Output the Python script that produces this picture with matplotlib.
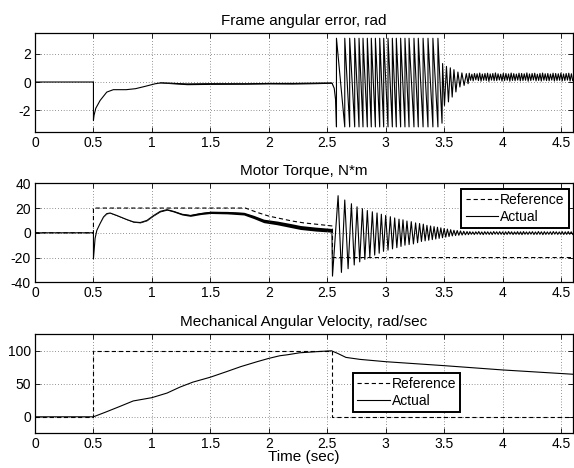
import numpy as np
import matplotlib
matplotlib.use("Agg")
import matplotlib.pyplot as plt

plt.rcParams['font.family'] = ['Liberation Sans', 'DejaVu Sans']
plt.rcParams['axes.unicode_minus'] = False
plt.rcParams['font.size'] = 10

# ---------------- Frame angular error, rad ----------------
err_t = [0.0, 0.5, 0.5, 0.505, 0.52, 0.557, 0.614, 0.67, 0.78, 0.86, 0.94, 1.03,
         1.08, 1.2, 1.3, 1.5, 1.8, 2.0, 2.2, 2.4, 2.54, 2.56, 2.572]
err_v = [0.0, 0.0, -2.7, -2.35, -1.85, -1.3, -0.71, -0.54, -0.54, -0.47, -0.31, -0.12,
         -0.05, -0.1, -0.14, -0.12, -0.12, -0.1, -0.1, -0.08, -0.06, -0.45, -1.3]
err_noise = [0, 0, 0, 0, 0, 0, 0, 0, 0, 0, 0, 0,
             0.02, 0.04, 0.05, 0.05, 0.04, 0.04, 0.05, 0.04, 0.03, 0, 0]
# instants where the angle wraps from -pi back to +pi
slip_t = [2.579, 2.65, 2.692, 2.735, 2.772, 2.806, 2.843, 2.877, 2.912, 2.949, 2.983,
          3.02, 3.057, 3.091, 3.128, 3.165, 3.2, 3.242, 3.279, 3.32, 3.362, 3.404, 3.447]
slip_top = 3.08
slip_bottom = -3.16
settle_t = [3.482, 3.487, 3.503, 3.52, 3.537, 3.553, 3.569, 3.584, 3.601, 3.618,
            3.635, 3.652, 3.671, 3.69, 3.705]
settle_v = [-2.9, 1.3, -1.65, 1.1, -1.4, 1.0, -1.06, 0.87, -0.7, 0.7,
            -0.35, 0.64, -0.24, 0.59, -0.12]
err_ripple_span = (3.715, 4.6)
err_ripple_hi = [0.62, 0.55, 0.6, 0.58, 0.63, 0.56, 0.6, 0.62, 0.57, 0.6, 0.64, 0.58,
                 0.55, 0.61, 0.6, 0.57, 0.63, 0.59, 0.56, 0.62, 0.6, 0.58, 0.64, 0.57,
                 0.6, 0.62, 0.55, 0.6, 0.63, 0.58, 0.6, 0.56, 0.62, 0.6, 0.58, 0.63,
                 0.57, 0.6, 0.62, 0.58]
err_ripple_lo = [0.12, 0.08, 0.15, 0.1, 0.06, 0.12, 0.1, 0.05, 0.13, 0.09, 0.1, 0.14,
                 0.07, 0.1, 0.12, 0.06, 0.11, 0.09, 0.13, 0.08, 0.1, 0.12, 0.06, 0.1,
                 0.14, 0.08, 0.11, 0.07, 0.12, 0.1, 0.09, 0.13, 0.07, 0.1, 0.12, 0.08,
                 0.1, 0.13, 0.07, 0.1]

# ---------------- Motor torque, N*m ----------------
trq_ref_t = [0.0, 0.5, 0.5, 1.8, 1.9, 2.0, 2.1, 2.2, 2.3, 2.4, 2.545, 2.545, 4.6]
trq_ref_v = [0.0, 0.0, 20.0, 20.0, 16.5, 13.5, 11.5, 9.5, 8.0, 7.0, 5.5, -20.0, -20.0]

trq_t = [0.0, 0.5, 0.5, 0.514, 0.529, 0.557, 0.586, 0.614, 0.643, 0.7, 0.786, 0.843,
         0.9, 0.957, 1.014, 1.071, 1.129, 1.186, 1.257, 1.329, 1.414, 1.5, 1.643,
         1.786, 1.871, 1.957, 2.071, 2.186, 2.27, 2.4, 2.54]
trq_v = [0.0, 0.0, -21.0, -4.5, 2.0, 7.5, 12.8, 15.5, 16.0, 14.0, 10.7, 8.8,
         8.3, 10.0, 13.9, 17.3, 18.7, 17.3, 15.0, 14.0, 15.5, 16.5, 16.3,
         15.5, 12.8, 9.6, 8.0, 5.9, 4.3, 3.0, 2.0]
trq_noise = [0, 0, 0, 0, 0, 0, 0.1, 0.2, 0.2, 0.2, 0.2, 0.3,
             0.3, 0.3, 0.3, 0.4, 0.4, 0.5, 0.6, 0.7, 0.8, 0.9, 1.0,
             1.1, 1.3, 1.4, 1.5, 1.6, 1.6, 1.6, 1.5]
trq_drop = (2.545, -35.0)
trq_peak_t = [2.593, 2.650, 2.707, 2.755, 2.801, 2.843, 2.886, 2.926, 2.963, 3.0,
              3.040, 3.077, 3.114, 3.148, 3.182, 3.219, 3.256, 3.29, 3.322, 3.353,
              3.384, 3.414, 3.443, 3.472, 3.50, 3.528, 3.556, 3.584, 3.612, 3.64,
              3.668, 3.696]
trq_peak_hi = [30, 26.5, 23.5, 21, 19.5, 18, 17, 16, 15, 14,
               13, 12, 11, 10.5, 9.5, 9, 8, 7.5, 7, 6,
               5.5, 5, 4.5, 4, 3.5, 3, 2.5, 2, 1.8, 1.5,
               1.2, 1.0]
trq_peak_lo = [-32, -29, -26, -23.5, -21.5, -19.5, -18, -16.5, -15, -14,
               -13, -12, -11, -10, -9.5, -9, -8, -7, -6.5, -6,
               -5.5, -5, -4.5, -4, -3.5, -3, -2.5, -2.2, -2, -1.8,
               -1.6, -1.5]
trq_ripple_span = (3.72, 4.6)
trq_ripple_hi = [0.9, 0.7, 0.8, 1.0, 0.7, 0.9, 0.8, 0.7, 1.0, 0.8, 0.9, 0.7,
                 0.8, 1.0, 0.8, 0.7, 0.9, 0.8, 1.0, 0.7, 0.8, 0.9, 0.7, 1.0,
                 0.8, 0.9, 0.7, 0.8, 1.0, 0.8, 0.7, 0.9, 0.8, 1.0, 0.8]
trq_ripple_lo = [-1.2, -1.4, -1.1, -1.3, -1.5, -1.2, -1.3, -1.4, -1.1, -1.3, -1.2, -1.5,
                 -1.3, -1.1, -1.4, -1.2, -1.3, -1.5, -1.2, -1.3, -1.1, -1.4, -1.3, -1.2,
                 -1.5, -1.3, -1.2, -1.4, -1.1, -1.3, -1.2, -1.4, -1.3, -1.2, -1.3]

# ---------------- Mechanical angular velocity, rad/sec ----------------
vel_ref_t = [0.0, 0.5, 0.5, 2.545, 2.545, 4.6]
vel_ref_v = [0.0, 0.0, 100.0, 100.0, 0.0, 0.0]
vel_t = [0.0, 0.5, 0.61, 0.73, 0.84, 1.0, 1.13, 1.24, 1.35, 1.5, 1.64, 1.76, 1.9,
         2.0, 2.094, 2.16, 2.265, 2.436, 2.536, 2.59, 2.66, 2.78, 3.0, 3.5, 4.0, 4.6]
vel_v = [0.0, 0.0, 7.5, 16.0, 24.0, 29.0, 36.0, 45.0, 52.5, 60.0, 68.5, 76.0, 83.5,
         88.5, 92.5, 94.0, 97.0, 99.0, 100.0, 96.0, 90.0, 87.0, 83.5, 77.5, 71.0, 64.5]

x_ticks = [0, 0.5, 1, 1.5, 2, 2.5, 3, 3.5, 4, 4.5]
x_tick_labels = ['0', '0.5', '1', '1.5', '2', '2.5', '3', '3.5', '4', '4.5']


def zigzag(span, hi, lo):
    vals = []
    for a, b in zip(hi, lo):
        vals += [a, b]
    return list(np.linspace(span[0], span[1], len(vals))), vals


# assemble the frame angle trace
a_t = list(err_t)
a_v = list(err_v)
for s in slip_t:
    a_t += [s, s]
    a_v += [slip_bottom, slip_top]
a_t += settle_t
a_v += settle_v
rt, rv = zigzag(err_ripple_span, err_ripple_hi, err_ripple_lo)
a_t += rt
a_v += rv

# assemble the torque trace
q_t = list(trq_t) + [trq_drop[0]]
q_v = list(trq_v) + [trq_drop[1]]
for i, tp in enumerate(trq_peak_t):
    nxt = trq_peak_t[i + 1] if i + 1 < len(trq_peak_t) else trq_ripple_span[0]
    q_t += [tp, 0.5 * (tp + nxt)]
    q_v += [trq_peak_hi[i], trq_peak_lo[i]]
rt, rv = zigzag(trq_ripple_span, trq_ripple_hi, trq_ripple_lo)
q_t += rt
q_v += rv

W, H = 574, 468
fig = plt.figure(figsize=(W / 100, H / 100), dpi=100)
left = 35 / W
width = (572.7 - 35) / W
rows = [(33.3, 132.0), (183.3, 282.3), (334.3, 433.3)]
axes = [fig.add_axes([left, 1 - b / H, width, (b - t) / H]) for t, b in rows]

grid_kw = dict(color='0.3', linestyle=(0, (0.8, 2.6)), linewidth=0.6)
dash = (0, (3.8, 2.6))
lw = 0.8
title_size = 11

for ax in axes:
    ax.set_xlim(0, 4.6)
    ax.set_xticks(x_ticks)
    ax.set_xticklabels(x_tick_labels)
    ax.grid(True, **grid_kw)
    ax.tick_params(direction='in', top=True, right=True, length=3.5, width=0.6,
                   labelsize=10, pad=3)
    for sp in ax.spines.values():
        sp.set_linewidth(0.9)
        sp.set_color('k')

ax1, ax2, ax3 = axes

ax1.plot(a_t, a_v, color='k', lw=lw)
ax1.fill_between(err_t, np.array(err_v) - np.array(err_noise),
                 np.array(err_v) + np.array(err_noise), color='k', lw=0)
ax1.set_ylim(-3.52, 3.43)
ax1.set_yticks([-2, 0, 2])
ax1.set_title('Frame angular error, rad', fontsize=title_size, pad=6)

ax2.plot(trq_ref_t, trq_ref_v, color='k', lw=lw, linestyle=dash, label='Reference')
ax2.plot(q_t, q_v, color='k', lw=lw, label='Actual')
ax2.fill_between(trq_t, np.array(trq_v) - np.array(trq_noise),
                 np.array(trq_v) + np.array(trq_noise), color='k', lw=0)
ax2.set_ylim(-40, 40)
ax2.set_yticks([-40, -20, 0, 20, 40])
ax2.set_title('Motor Torque, N*m', fontsize=title_size, pad=6)

ax3.plot(vel_ref_t, vel_ref_v, color='k', lw=lw, linestyle=dash, label='Reference')
ax3.plot(vel_t, vel_v, color='k', lw=lw, label='Actual')
ax3.set_ylim(-25, 125)
ax3.set_yticks([0, 50, 100])
ax3.set_title('Mechanical Angular Velocity, rad/sec', fontsize=title_size, pad=6)
ax3.set_xlabel('Time (sec)', fontsize=title_size, labelpad=-1)

leg_kw = dict(fontsize=10, frameon=True, fancybox=False, borderaxespad=0,
              handlelength=2.35, handletextpad=0.15, labelspacing=0.18,
              borderpad=0.3, framealpha=1)
l2 = ax2.legend(loc='upper right', bbox_to_anchor=(0.993, 0.942), **leg_kw)
l3 = ax3.legend(loc='upper left', bbox_to_anchor=(0.591, 0.609), **leg_kw)
for lg in (l2, l3):
    lg.get_frame().set_edgecolor('k')
    lg.get_frame().set_linewidth(1.4)

fig.savefig('out.png', dpi=100)
